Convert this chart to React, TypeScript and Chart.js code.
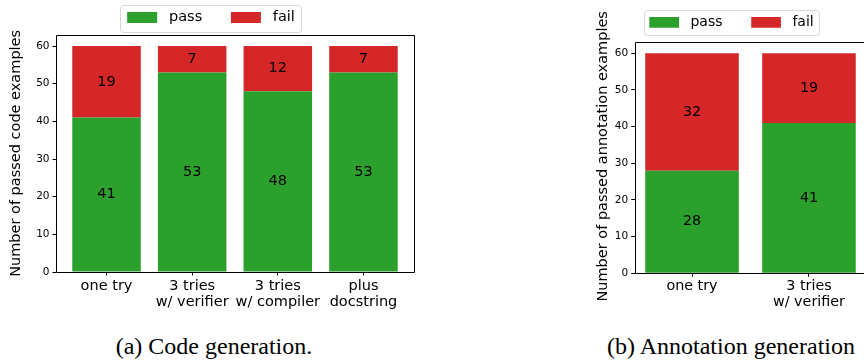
import React, { useEffect, useRef } from 'react';
import { Chart, registerables } from 'chart.js';

Chart.register(...registerables);

// ---------------- data ----------------
const seriesNames = ['pass', 'fail'];

const codeCategories: string[][] = [
  ['one try'],
  ['3 tries', 'w/ verifier'],
  ['3 tries', 'w/ compiler'],
  ['plus', 'docstring'],
];
const codePass = [41, 53, 48, 53];
const codeFail = [19, 7, 12, 7];

const annCategories: string[][] = [['one try'], ['3 tries', 'w/ verifier']];
const annPass = [28, 41];
const annFail = [32, 19];

const yTickStep = 10;
const codeYLabel = 'Number of passed code examples';
const annYLabel = 'Number of passed annotation examples';
const captions = ['(a) Code generation.', '(b) Annotation generation'];

// ---------------- style ----------------
const GREEN = '#2ca02c';
const RED = '#d62728';
const FONT = "'DejaVu Sans', sans-serif";
const INK = '#000000';

type Spec = {
  left: number;
  top: number;
  w: number;
  h: number;
  padL: number;
  padR: number;
  yAxisWidth: number;
  xAxisHeight: number;
  xMin: number;
  xMax: number;
  yMax: number;
  spineTop: number;
  categories: string[][];
  pass: number[];
  fail: number[];
  yLabel: string;
  legendSize: number;
  boxW: number;
  boxH: number;
  legendPad: number;
  trailing: string;
  frame: [number, number, number, number]; // left, right, top, bottom margins
  xTickSize: number;
  xTickPad: number;
  yTickSize: number;
  yTickPad: number;
  tickLen: number;
  titleSize: number;
  titlePad: number;
  valueSize: number;
};

const specA: Spec = {
  left: 0,
  top: 0,
  w: 416,
  h: 318,
  padL: 8,
  padR: 2,
  yAxisWidth: 48,
  xAxisHeight: 46,
  xMin: -0.59,
  xMax: 3.59,
  yMax: 63,
  spineTop: 63,
  categories: codeCategories,
  pass: codePass,
  fail: codeFail,
  yLabel: codeYLabel,
  legendSize: 14.5,
  boxW: 30,
  boxH: 11,
  legendPad: 10.25,
  trailing: '    ',
  frame: [7, 6, 5.25, 7.25],
  xTickSize: 14.5,
  xTickPad: 3,
  yTickSize: 10.5,
  yTickPad: 3,
  tickLen: 3.5,
  titleSize: 14.5,
  titlePad: 0,
  valueSize: 14.5,
};

const specB: Spec = {
  left: 590,
  top: 0,
  w: 279,
  h: 318,
  padL: 6.7,
  padR: 2.7,
  yAxisWidth: 38,
  xAxisHeight: 44.7,
  xMin: -0.49,
  xMax: 1.49,
  yMax: 63.8,
  spineTop: 63,
  categories: annCategories,
  pass: annPass,
  fail: annFail,
  yLabel: annYLabel,
  legendSize: 14,
  boxW: 29.7,
  boxH: 10.7,
  legendPad: 15.35,
  trailing: '   ',
  frame: [5.3, 5.7, 5.35, 5.65],
  xTickSize: 14.3,
  xTickPad: 2,
  yTickSize: 10.5,
  yTickPad: 3,
  tickLen: 3.5,
  titleSize: 14.5,
  titlePad: -2.4,
  valueSize: 14.3,
};

function buildConfig(s: Spec): any {
  const legendFramePlugin = {
    id: 'legendFrame',
    beforeDraw(chart: any) {
      const leg = chart.legend;
      if (!leg || !leg.lineWidths) return;
      const p = s.legendPad;
      const start = (leg.left + p + leg.right - leg.lineWidths[0]) / 2;
      const end = start + leg.lineWidths[0] - p;
      const itemTop = leg.top + p;
      const itemH = Math.max(s.legendSize, s.boxH);
      const [ml, mr, mt, mb] = s.frame;
      const ctx = chart.ctx;
      ctx.save();
      ctx.beginPath();
      ctx.roundRect(
        Math.round(start - ml) + 0.5,
        Math.round(itemTop - mt) + 0.5,
        Math.round(end + mr - (start - ml)),
        Math.round(itemTop + itemH + mb - (itemTop - mt)),
        3
      );
      ctx.fillStyle = '#ffffff';
      ctx.fill();
      ctx.strokeStyle = '#d6d6d6';
      ctx.lineWidth = 1;
      ctx.stroke();
      ctx.restore();
    },
  };

  const spinesPlugin = {
    id: 'spines',
    afterDatasetsDraw(chart: any) {
      const { left, right, bottom } = chart.chartArea;
      const top = chart.scales.y.getPixelForValue(s.spineTop);
      const a = (v: number) => Math.round(v) + 0.5;
      const ctx = chart.ctx;
      ctx.save();
      ctx.strokeStyle = INK;
      ctx.lineWidth = 1;
      ctx.beginPath();
      ctx.moveTo(a(left), a(top));
      ctx.lineTo(a(right), a(top));
      ctx.lineTo(a(right), a(bottom));
      ctx.lineTo(a(left), a(bottom));
      ctx.closePath();
      ctx.stroke();
      ctx.restore();
    },
  };

  const valueLabelsPlugin = {
    id: 'valueLabels',
    afterDatasetsDraw(chart: any) {
      const ctx = chart.ctx;
      ctx.save();
      ctx.font = `${s.valueSize}px ${FONT}`;
      ctx.fillStyle = INK;
      ctx.textAlign = 'center';
      ctx.textBaseline = 'middle';
      chart.data.datasets.forEach((ds: any, di: number) => {
        const meta = chart.getDatasetMeta(di);
        meta.data.forEach((el: any, i: number) => {
          const { x, y, base } = el.getProps(['x', 'y', 'base'], true);
          ctx.fillText(String(ds.data[i].y), x, (y + base) / 2);
        });
      });
      ctx.restore();
    },
  };

  const tickGrid = {
    display: true,
    drawOnChartArea: false,
    drawTicks: true,
    tickLength: s.tickLen,
    tickColor: INK,
    tickWidth: 1,
    color: INK,
    offset: false,
  };

  const legendTexts = seriesNames.map((n, i) =>
    i < seriesNames.length - 1 ? ' ' + n + s.trailing : ' ' + n
  );

  return {
    type: 'bar',
    data: {
      datasets: [
        {
          label: seriesNames[0],
          data: s.pass.map((v, i) => ({ x: i, y: v })),
          backgroundColor: GREEN,
          borderWidth: 0,
          barPercentage: 1,
          categoryPercentage: 0.8,
        },
        {
          label: seriesNames[1],
          data: s.fail.map((v, i) => ({ x: i, y: v })),
          backgroundColor: RED,
          borderWidth: 0,
          barPercentage: 1,
          categoryPercentage: 0.8,
        },
      ],
    },
    options: {
      responsive: false,
      maintainAspectRatio: false,
      animation: false,
      devicePixelRatio: 1,
      layout: { padding: { left: s.padL, right: s.padR, top: 0, bottom: 0 } },
      plugins: {
        legend: {
          display: true,
          position: 'top',
          align: 'center',
          labels: {
            font: { family: FONT, size: s.legendSize },
            color: INK,
            boxWidth: s.boxW,
            boxHeight: s.boxH,
            padding: s.legendPad,
            generateLabels: (chart: any) =>
              chart.data.datasets.map((ds: any, i: number) => ({
                text: legendTexts[i],
                fillStyle: ds.backgroundColor,
                strokeStyle: ds.backgroundColor,
                lineWidth: 0,
                hidden: false,
                datasetIndex: i,
                fontColor: INK,
              })),
          },
        },
        tooltip: { enabled: false },
        title: { display: false },
      },
      scales: {
        x: {
          type: 'linear',
          stacked: true,
          min: s.xMin,
          max: s.xMax,
          offset: false,
          grid: tickGrid,
          border: { display: false },
          ticks: {
            autoSkip: false,
            maxRotation: 0,
            minRotation: 0,
            padding: s.xTickPad,
            color: INK,
            font: { family: FONT, size: s.xTickSize, lineHeight: 1.1 },
            callback: (v: number) => s.categories[v] ?? '',
          },
          afterBuildTicks: (axis: any) => {
            axis.ticks = s.categories.map((_, i) => ({ value: i }));
          },
          afterFit: (axis: any) => {
            axis.height = s.xAxisHeight;
          },
        },
        y: {
          type: 'linear',
          stacked: true,
          min: 0,
          max: s.yMax,
          grid: tickGrid,
          border: { display: false },
          ticks: {
            stepSize: yTickStep,
            includeBounds: false,
            padding: s.yTickPad,
            color: INK,
            font: { family: FONT, size: s.yTickSize },
          },
          title: {
            display: true,
            text: s.yLabel,
            color: INK,
            font: { family: FONT, size: s.titleSize, lineHeight: 1.2 },
            padding: { top: s.titlePad, bottom: 0 },
          },
          afterFit: (axis: any) => {
            axis.width = s.yAxisWidth;
          },
        },
      },
    },
    plugins: [legendFramePlugin, spinesPlugin, valueLabelsPlugin],
  };
}

function BarPanel({ spec }: { spec: Spec }) {
  const ref = useRef<HTMLCanvasElement>(null);
  useEffect(() => {
    const chart = new Chart(ref.current as HTMLCanvasElement, buildConfig(spec));
    return () => chart.destroy();
  }, [spec]);
  return (
    <canvas
      ref={ref}
      width={spec.w}
      height={spec.h}
      style={{
        position: 'absolute',
        left: spec.left,
        top: spec.top,
        width: spec.w,
        height: spec.h,
        display: 'block',
      }}
    />
  );
}

const captionStyle = (cx: number): React.CSSProperties => ({
  position: 'absolute',
  left: cx,
  top: 334,
  transform: 'translateX(-50%)',
  whiteSpace: 'nowrap',
  fontFamily: "'Liberation Serif', 'Times New Roman', serif",
  fontSize: 24,
  lineHeight: '24px',
  color: '#000',
});

export default function App() {
  return (
    <div
      style={{
        position: 'absolute',
        left: 0,
        top: 0,
        width: 864,
        height: 360,
        overflow: 'hidden',
        background: '#ffffff',
      }}
    >
      <BarPanel spec={specA} />
      <BarPanel spec={specB} />
      <div style={captionStyle(214)}>{captions[0]}</div>
      <div style={captionStyle(731)}>{captions[1]}</div>
    </div>
  );
}
